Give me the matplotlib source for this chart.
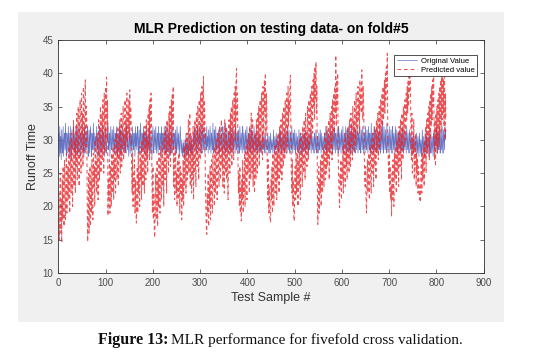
import numpy as np
import matplotlib
matplotlib.use("Agg")
import matplotlib.pyplot as plt
from matplotlib.patches import Rectangle

plt.rcParams['font.family'] = ['Liberation Sans', 'DejaVu Sans']

# original runoff time per test sample
original = [
    31, 27.5, 32, 28, 30.5, 27, 31.5, 29, 28, 32, 27.5, 30, 31, 28.5, 32.5, 29, 27.5, 31, 30, 28,
    32, 29.5, 27.5, 31, 28, 32, 30, 27, 31.5, 29, 28.5, 32, 30.5, 28, 31, 27.5, 30, 32, 29, 28,
    31.5, 28, 30, 32.5, 29, 27.5, 31, 30, 28.5, 32, 29.5, 28, 31, 27.5, 30.5, 32, 28, 29.5, 31, 28.5,
    30, 32, 27.5, 29, 31.5, 28, 30.5, 32, 29, 27.5, 31, 30, 28.5, 32.5, 29.5, 28, 31, 29, 30.5, 28,
    32, 30, 28.5, 31, 29, 27.5, 32, 30.5, 28, 31.5, 29.5, 28, 30, 32, 28.5, 31, 29, 27.5, 30.5, 32,
    29, 28, 31, 30, 32.5, 28.5, 29.5, 31, 27.5, 30, 32, 29, 28.5, 31.5, 30, 28, 32, 29.5, 28, 31,
    30.5, 28, 32, 29, 27.5, 31, 30, 28.5, 32, 29.5, 28, 31.5, 30, 27.5, 32.5, 29, 28.5, 31, 30, 28,
    31.5, 29, 28, 32, 30.5, 28.5, 31, 29.5, 27.5, 30, 32, 28, 31, 29, 30.5, 28, 32, 29.5, 28.5, 31,
    30, 27.5, 32, 29, 31, 28.5, 30.5, 32, 28, 29.5, 31.5, 28, 30, 32.5, 29, 28, 31, 30, 28.5, 32,
    29.5, 28, 31, 30, 27.5, 32, 29, 30.5, 28, 31.5, 29, 28.5, 32, 30, 28, 31, 29.5, 27.5, 30.5, 32,
    29, 28, 31.5, 30, 28.5, 32, 29.5, 28, 31, 30.5, 28, 32, 29, 28.5, 31, 30, 27.5, 32, 29.5, 28,
    31, 30, 28.5, 32, 29, 28, 31.5, 30, 28, 32.5, 29.5, 28.5, 31, 30, 27.5, 32, 29, 28, 31, 30.5,
    28, 32, 29.5, 28.5, 31, 30, 28, 31.5, 29, 28, 32, 30, 28.5, 31, 29.5, 27.5, 30.5, 32, 29, 28,
    30, 28.5, 27.5, 29.5, 28, 30, 27, 29, 28.5, 31, 27.5, 29.5, 28, 30.5, 27.5, 29, 28.5, 31, 28, 29.5,
    28, 30.5, 27.5, 29, 28.5, 31, 29, 32, 28.5, 30, 31.5, 29, 28, 32, 30.5, 28.5, 31, 29.5, 32, 28,
    30, 32.5, 29, 28, 31.5, 30, 28.5, 32, 29.5, 28, 31, 30, 28.5, 32, 29, 30.5, 28, 31.5, 30, 28.5,
    32, 29.5, 28, 31, 30, 28.5, 32.5, 29, 28, 31.5, 30.5, 28, 32, 29, 28.5, 31, 30, 28, 31.5, 29.5,
    28, 32, 30, 28.5, 31, 29.5, 28, 32, 30.5, 28.5, 31, 29, 28, 32.5, 30, 28.5, 31.5, 29, 28, 31,
    30, 28.5, 32, 29.5, 28, 31, 30.5, 28, 32, 29, 28.5, 31.5, 30, 28, 32, 29.5, 28.5, 31, 30, 28,
    31.5, 29, 28, 32, 30, 28.5, 31, 29.5, 28, 32, 30.5, 28.5, 31, 29, 28, 31.5, 30, 28.5, 32, 29,
    28, 31, 30, 28.5, 32, 29.5, 28, 31.5, 30, 28, 31, 29.5, 28.5, 32, 30, 28, 31, 29, 28.5, 31.5,
    29, 28, 30.5, 29.5, 28, 31, 29, 28.5, 30, 28, 29.5, 31, 28.5, 29, 30.5, 28, 29.5, 31, 28, 30,
    29, 28.5, 31, 29.5, 28, 30.5, 29, 28, 31, 29.5, 28.5, 30, 29, 28, 31.5, 29.5, 28, 30.5, 29, 28.5,
    31, 29.5, 28, 30.5, 29, 28, 31, 30, 28.5, 31.5, 29, 28, 30.5, 29.5, 28.5, 31, 29, 28, 31.5, 30,
    28.5, 31, 29.5, 28, 32, 30, 28.5, 31.5, 29, 28, 31, 30, 28.5, 32, 29.5, 28, 31, 30, 28.5, 31.5,
    29, 28, 31, 29.5, 28.5, 30.5, 29, 28, 31.5, 30, 28.5, 31, 29, 28, 30.5, 29.5, 28, 31, 29, 28.5,
    31, 30, 28, 31.5, 29, 28.5, 30.5, 29.5, 28, 31, 29, 28.5, 31.5, 30, 28, 31, 29.5, 28.5, 30.5, 29,
    28, 31, 30, 28.5, 31.5, 29, 28, 30.5, 29.5, 28, 31, 29, 28.5, 31.5, 30, 28, 31, 29, 28.5, 30.5,
    29.5, 28, 31, 30, 28.5, 32, 29, 28, 31.5, 30, 28.5, 31, 29.5, 28, 32, 30, 28.5, 31, 29, 28,
    31.5, 30, 28.5, 32, 29.5, 28, 31, 30, 28.5, 31.5, 29, 28, 32, 30.5, 28.5, 31, 29.5, 28, 31.5, 30,
    28.5, 32, 29, 28, 31, 30.5, 28.5, 32, 29.5, 28, 31.5, 30, 28, 32, 29, 28.5, 31, 30, 28, 32.5,
    29.5, 28, 31, 30, 28.5, 32, 29, 28, 31.5, 30.5, 28.5, 32, 29.5, 28, 31, 30, 28.5, 32, 29, 28,
    31.5, 30, 28.5, 32, 29.5, 28, 31, 30.5, 28, 32, 29, 28.5, 31.5, 30, 28, 32, 29.5, 28.5, 31, 30,
    28, 32.5, 29.5, 28.5, 31, 30, 28, 32, 29, 28.5, 31.5, 30.5, 28, 32, 29.5, 28, 31, 30, 28.5, 32.5,
    29, 28, 31.5, 30, 28.5, 33, 29.5, 28, 32, 30, 28.5, 31.5, 29, 28, 32.5, 30, 28.5, 31, 29.5, 28,
    32, 30, 28.5, 31.5, 29, 28, 32, 30.5, 28.5, 31, 29.5, 28, 32, 30, 28.5, 31.5, 29, 28, 31, 30,
    28.5, 31.5, 29.5, 28, 31, 30, 28.5, 32, 29, 28, 31.5, 30, 28.5, 31, 29.5, 28, 32, 30, 28.5, 31,
    29, 28, 31.5, 30, 28.5, 31, 29.5, 28, 30.5, 29, 28, 31, 29.5, 28.5, 30.5, 29, 27.5, 31, 29.5, 28,
    30.5, 29, 27.5, 31, 29.5, 28, 30, 29, 27.5, 31.5, 29.5, 28, 30.5, 29, 27.5, 31, 29.5, 28, 30.5, 29.5,
    28, 31, 29.5, 27.5, 30.5, 29, 28, 31.5, 29.5, 28, 30.5, 29, 27.5, 31, 29.5, 28.5, 31.5, 30, 28, 32,
    29.5, 28, 31, 30, 28.5, 32, 29.5, 28, 31.5, 30, 28.5, 32, 29, 28, 31.5, 30, 28.5, 32, 30, 31.5,
]

# predicted runoff time, one block per rise-and-drop cycle
pred_a = [22, 15, 19, 25, 16, 21, 14.6, 24, 18, 26,
          20, 17, 27, 22, 18, 25, 28, 19, 23, 26,
          21, 29, 24, 19, 30, 26, 22, 31, 25, 20,
          28, 33, 23, 27, 30, 22, 32, 26, 34, 24,
          29, 35, 27, 23, 33, 36, 28, 25, 37, 30,
          34, 26, 38, 31, 28, 36, 39, 29, 35, 33]
pred_b = [21, 14.7, 18, 25, 16, 22, 26, 17, 24, 19,
          27, 21, 18, 28, 23, 26, 20, 30, 24, 27,
          22, 31, 26, 21, 33, 28, 24, 32, 35, 25,
          29, 34, 27, 36, 30, 25, 37, 32, 28, 38,
          33, 39.4, 30, 36]
pred_c = [18.6, 24, 21, 27, 19, 26, 23, 20, 28, 22,
          25, 29, 21, 27, 24, 30, 22, 28, 31, 24,
          26, 32, 23, 29, 27, 33, 25, 30, 34, 26,
          28, 32, 35, 27, 31, 29, 36, 28, 33, 30,
          37, 29, 34, 31, 36, 30, 37.5, 32, 35, 33]
pred_d = [26, 22, 28, 20, 25, 23, 27, 19, 24, 21,
          17.5, 23, 26, 19, 28, 22, 25, 20, 29, 24,
          27, 21, 30, 25, 23, 31, 26, 22, 32, 28,
          24, 33, 27, 30, 25, 34, 29, 35, 27, 36,
          31, 37, 33]
pred_e = [24, 19, 26, 18, 22, 16, 15.3, 21, 25, 18,
          23, 27, 17, 24, 20, 28, 22, 19, 26, 29,
          21, 25, 30, 23, 27, 20, 31, 26, 24, 32,
          28, 22, 33, 27, 30, 25, 34, 29, 35, 26,
          31, 36, 28, 37, 32, 38]
pred_f = [23, 28, 21, 26, 29, 22, 25, 20, 27, 24,
          21, 28, 23, 19, 26, 22, 25, 18, 24, 21,
          27, 20, 29, 23, 26, 30, 22, 28, 31, 24,
          27, 33, 25, 29, 34, 23, 31, 26, 22, 30,
          24, 32, 21, 28, 25, 33, 27, 23, 34, 29,
          26, 35, 28, 24, 36, 30, 27, 37, 32, 28,
          38, 31, 35, 39.5, 30, 36, 33]
pred_g = [24, 20, 17, 15.8, 22, 19, 25, 17, 23, 20,
          26, 18, 24, 27, 21, 19, 28, 23, 25, 20,
          29, 22, 26, 30, 24, 21, 28, 31, 25, 23,
          32, 27, 24, 30, 33, 26, 29, 23, 31, 27,
          22, 33, 28, 25, 32, 24, 30, 26, 21, 29,
          33, 27, 25, 34, 28, 35, 26, 31, 36, 29,
          27, 37, 32, 38, 30, 39, 40.7, 33, 37]
pred_h = [27, 22, 25, 20, 26, 19, 23, 17.8, 24, 21,
          27, 19, 25, 22, 28, 20, 26, 29, 23, 21,
          30, 25, 27, 31, 22, 32, 26, 24, 34, 28,
          25, 33, 23, 30, 26, 22, 31, 27, 24, 33,
          28, 25, 34, 29, 35, 26, 31, 36, 28, 33,
          37, 30, 27, 38, 32, 29, 39, 34, 40, 31,
          37, 35]
pred_i = [25, 21, 27, 19, 23, 20, 18, 17.6, 24, 21,
          26, 19, 28, 23, 20, 27, 29, 22, 25, 30,
          21, 28, 24, 31, 26, 22, 32, 27, 25, 33,
          29, 24, 34, 28, 26, 35, 30, 27, 36, 31,
          28, 37, 33, 29, 38, 32, 36, 34, 39, 39.7]
pred_j = [31, 25, 22, 27, 20, 24, 19, 17.8, 23, 26,
          21, 28, 22, 25, 29, 20, 27, 23, 30, 24,
          21, 31, 26, 28, 23, 32, 27, 25, 33, 29,
          24, 34, 28, 31, 26, 35, 30, 27, 36, 32,
          29, 37, 33, 30, 38, 34, 31, 39, 35, 40,
          33, 41, 36, 41.7, 34, 38]
pred_k = [23, 17.3, 21, 26, 19, 24, 22, 27, 20, 25,
          28, 22, 26, 29, 23, 27, 31, 24, 28, 25,
          32, 26, 30, 27, 33, 24, 29, 34, 28, 31,
          35, 27, 36, 30, 33, 37, 31, 38, 34, 42.7,
          32, 39, 35, 40]
pred_l = [28, 24, 22, 19.8, 25, 23, 27, 21, 26, 24,
          29, 22, 27, 30, 25, 23, 31, 26, 28, 24,
          32, 27, 30, 25, 33, 28, 26, 34, 29, 31,
          27, 35, 30, 33, 28, 36, 31, 29, 37, 32,
          34, 30, 38, 33, 36, 31, 39, 35, 37, 34,
          40.5, 36, 33, 38, 35]
pred_m = [29, 25, 23, 26, 21, 19, 24, 27, 22, 25,
          28, 21, 26, 29, 24, 22, 30, 27, 25, 31,
          23, 28, 32, 26, 29, 24, 33, 28, 30, 34,
          27, 31, 35, 29, 33, 36, 30, 34, 37, 32,
          38, 33, 35, 39, 34, 40, 36, 41, 38, 43]
pred_n = [31, 27, 24, 28, 22, 26, 21, 23, 18.5, 25,
          21, 27, 23, 20, 28, 24, 26, 29, 22, 30,
          25, 27, 31, 23, 32, 28, 26, 33, 29, 24,
          34, 30, 27, 35, 31, 29, 36, 32, 30, 37,
          33, 38, 34, 39, 35, 40, 37, 42, 38]
pred_o = [31, 27, 34, 25, 30, 28, 33, 24, 29, 26,
          31, 23, 28, 25, 27, 22, 26, 24, 21, 23,
          20.6, 25, 27, 22, 28, 24, 29, 26, 23, 30,
          27, 32, 25, 33, 28, 31, 34, 29, 35, 27,
          36, 30, 37, 32, 38, 33, 39, 35, 41]
pred_p = [31, 27, 33, 26, 34, 29, 35, 28, 36, 30,
          37, 29, 38, 32, 39, 31, 40, 33, 41, 34,
          39, 32, 40, 30, 37, 33]

predicted = (pred_a + pred_b + pred_c + pred_d + pred_e + pred_f + pred_g + pred_h
             + pred_i + pred_j + pred_k + pred_l + pred_m + pred_n + pred_o + pred_p)

x_ticks = list(range(0, 901, 100))
y_ticks = list(range(10, 46, 5))

fig = plt.figure(figsize=(5.56, 3.63), dpi=100)
# grey matlab figure panel
fig.add_artist(Rectangle((0.0315, 0.113), 0.875, 0.854, transform=fig.transFigure,
                         facecolor='#f0f0f0', edgecolor='none', zorder=-5))

ax = fig.add_axes([0.105, 0.248, 0.765, 0.642])
ax.plot(np.arange(1, len(original) + 1), original, color='#4a5ab8', lw=0.5,
        alpha=0.85, label='Original Value')
ax.plot(np.arange(1, len(predicted) + 1), predicted, color='#e8262b', lw=0.75,
        dashes=(3.5, 2.8), alpha=0.8, label='Predicted value')

ax.set_xlim(0, 900)
ax.set_ylim(10, 45)
ax.set_xticks(x_ticks)
ax.set_yticks(y_ticks)
ax.tick_params(direction='in', length=3, width=0.5, top=True, right=True,
               labelsize=7, labelcolor='#4d4d4d', color='#333333')
for s in ax.spines.values():
    s.set_linewidth(0.6)
    s.set_color('#333333')

ax.set_title('MLR Prediction on testing data- on fold#5', fontsize=10,
             fontweight='bold', pad=5)
ax.set_xlabel('Test Sample #', fontsize=9, color='#333333', labelpad=3)
ax.set_ylabel('Runoff Time', fontsize=9, color='#333333', labelpad=3)

leg = ax.legend(loc='upper right', bbox_to_anchor=(0.984, 0.936), fontsize=5.6,
                handlelength=2.6, borderaxespad=0, fancybox=False, framealpha=1,
                borderpad=0.3, labelspacing=0.25, handletextpad=0.5)
leg.get_frame().set_edgecolor('#333333')
leg.get_frame().set_linewidth(0.6)

fig.text(0.302, 0.063, 'Figure 13:', ha='right', va='center', fontsize=11.5,
         fontweight='bold', family='Liberation Serif', color='#111111')
fig.text(0.308, 0.063, 'MLR performance for fivefold cross validation.', ha='left',
         va='center', fontsize=11, family='Liberation Serif', color='#111111')

fig.savefig('out.png', dpi=100)
